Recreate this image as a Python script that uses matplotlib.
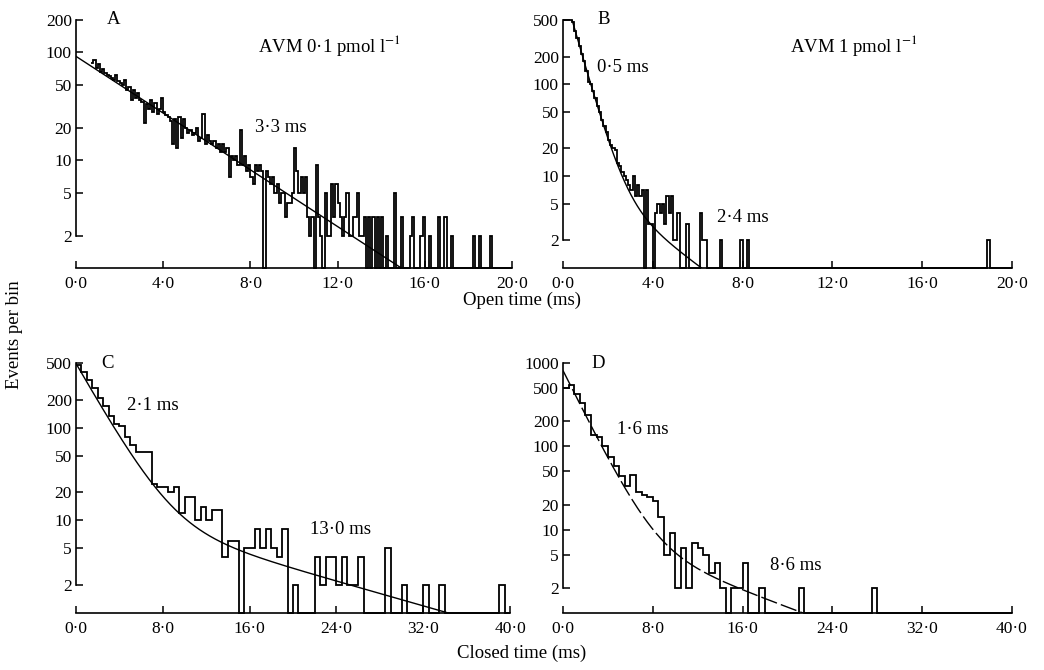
import numpy as np
import matplotlib
matplotlib.use("Agg")
import matplotlib.pyplot as plt

plt.rcParams['font.family'] = ['Liberation Serif', 'DejaVu Serif']
plt.rcParams['mathtext.fontset'] = 'stix'

# ---------------- data ----------------
open_bin_ms = 0.1
closed_bin_ms = 0.5

# Panel A: open times, AVM 0.1 pmol/l  (bins of 0.1 ms starting at 0.7 ms)
A_start_ms = 0.7
A_counts = [
    80, 85, 72,
    78, 66, 70, 64, 62, 60, 58, 55, 62, 54,
    52, 50, 55, 45, 48, 36, 45, 38, 42, 36,
    35, 22, 33, 30, 36, 28, 34, 27, 30, 38,
    28, 26, 25, 23, 14, 24, 13, 25, 16, 24,
    20, 18, 19, 17, 18, 20, 15, 16, 27, 14,
    17, 15, 14, 15, 13, 14, 12, 14, 12, 13,
    7, 11, 10, 11, 9, 19, 9, 11, 8, 9,
    7, 6, 9, 8, 9, 8, 1, 8, 7, 6,
    7, 5, 6, 4, 5, 5, 3, 4, 4, 5,
    13, 8, 5, 7, 5, 7, 3, 2, 3, 1,
    9, 3, 2, 1, 5, 2, 2, 6, 3, 6,
    4, 3, 2, 3, 5, 2, 2, 3, 3, 5,
    2, 2, 3, 1, 3, 1, 3, 1, 3, 1,
    3, 1, 2, 1, 1, 1, 5, 1, 1, 3,
    1, 1, 1, 2, 3, 1, 1, 1, 2, 3,
    1, 1, 2, 1, 1, 1, 3, 1, 1, 3,
    1, 1, 2, 1, 1, 1, 1, 1, 1, 1,
    1, 1, 2, 1, 1, 2, 1, 1, 1, 1,
    2, 1, 1, 1, 1, 1, 1, 1, 1, 1,
]

# Panel B: open times, AVM 1 pmol/l  (bins of 0.1 ms from 0)
B_start_ms = 0.0
B_counts = [
    500, 500, 500, 500, 470, 380, 320, 260, 215, 180,
    140, 105, 100, 85, 70, 58, 50, 41, 35, 30,
    25, 22, 20, 19, 14, 13, 11, 10, 9, 8,
    7, 10, 6, 8, 6, 7, 1, 7, 3, 3,
    1, 4, 5, 4, 5, 3, 6, 4, 6, 2,
    2, 4, 1, 1, 1, 3, 1, 1, 1, 1,
    1, 4, 2, 2, 1, 1, 1, 1, 1, 1,
    2, 1, 1, 1, 1, 1, 1, 1, 1, 2,
    1, 1, 2, 1, 1, 1, 1, 1, 1, 1,
] + [1] * 99 + [2] + [1] * 10

# Panel C: closed times, AVM 0.1 pmol/l (bins of 0.5 ms)
C_start_ms = 0.0
C_counts = [
    480, 400, 330, 270, 210, 170, 135, 110, 105, 80,
    65, 55, 55, 55, 25, 23, 23, 20, 23, 12,
    18, 18, 10, 14, 10, 13, 13, 4, 6, 6,
    1, 5, 5, 8, 5, 8, 5, 4, 8, 1,
    2, 1, 1, 1, 4, 2, 4, 4, 2, 4,
    2, 2, 4, 1, 1, 1, 1, 5, 1, 1,
    2, 1, 1, 1, 2, 1, 1, 2, 1, 1,
    1, 1, 1, 1, 1, 1, 1, 1, 2, 1,
]

# Panel D: closed times, AVM 1 pmol/l (bins of 0.5 ms)
D_start_ms = 0.0
D_counts = [
    500, 550, 420, 330, 240, 135, 130, 100, 75, 58,
    44, 33, 45, 28, 26, 25, 22, 14, 5, 9,
    2, 6, 2, 7, 6, 5, 3, 4, 2, 1,
    2, 2, 4, 1, 1, 2, 1, 1, 1, 1,
    1, 1, 2, 1, 1, 1, 1, 1, 1, 1,
    1, 1, 1, 1, 1, 2, 1, 1, 1, 1,
    1, 1, 1, 1, 1, 1, 1, 1, 1, 1,
    1, 1, 1, 1, 1, 1, 1, 1, 1, 1,
]

# fitted exponential components (amplitude per bin, time constant ms)
A_fit_amp = [92.0];         A_fit_tau = [3.3];       A_fit_from = 0.0
B_fit_amp = [1100.0, 13.0]; B_fit_tau = [0.5, 2.4];  B_fit_from = 0.4
C_fit_amp = [480.0, 14.0];  C_fit_tau = [2.1, 13.0]; C_fit_from = 0.0
D_fit_amp = [800.0, 12.0];  D_fit_tau = [1.6, 8.6];  D_fit_from = 0.0

open_xticks = [0, 4, 8, 12, 16, 20]
open_xlabels = ["0·0", "4·0", "8·0", "12·0", "16·0", "20·0"]
closed_xticks = [0, 8, 16, 24, 32, 40]
closed_xlabels = ["0·0", "8·0", "16·0", "24·0", "32·0", "40·0"]
yt_A = [2, 5, 10, 20, 50, 100, 200]
yt_BC = [2, 5, 10, 20, 50, 100, 200, 500]
yt_D = [2, 5, 10, 20, 50, 100, 200, 500, 1000]

# ---------------- figure ----------------
W, H = 1044, 670
fig = plt.figure(figsize=(W / 100, H / 100), dpi=100)


def rect(x0, x1, ytop, ybot):
    return [x0 / W, 1 - ybot / H, (x1 - x0) / W, (ybot - ytop) / H]


def panel(r, counts, start, width, xmax, ytop, yticks, xticks, xlabels,
          amps, taus, fit_from, fit_style):
    ax = fig.add_axes(r)
    ax.set_yscale('log')
    ax.set_xlim(0, xmax)
    ax.set_ylim(1, ytop)
    c = np.clip(np.asarray(counts, dtype=float), 1, ytop)
    edges = start + width * np.arange(len(c) + 1)
    ax.stairs(c, edges, baseline=None, color='black', lw=1.3,
              clip_on=False)
    t = np.linspace(fit_from, xmax, 2000)
    f = np.zeros_like(t)
    for a, tau in zip(amps, taus):
        f += a * np.exp(-t / tau)
    m = (f >= 1.0) & (f <= ytop * 1.01)
    ax.plot(t[m], f[m], color='black', lw=1.0, ls=fit_style)
    for s in ('top', 'right'):
        ax.spines[s].set_visible(False)
    ax.spines['left'].set_bounds(2, yticks[-1])
    ax.spines['bottom'].set_bounds(0, xmax)
    for s in ('left', 'bottom'):
        ax.spines[s].set_linewidth(1.2)
    ax.set_yticks(yticks)
    ax.set_yticklabels([str(v) for v in yticks])
    ax.yaxis.set_minor_locator(matplotlib.ticker.NullLocator())
    ax.set_xticks(xticks)
    ax.set_xticklabels(xlabels)
    ax.tick_params(direction='in', length=5, width=1.1, labelsize=12.5,
                   pad=3)
    ax.tick_params(axis='x', pad=6)
    return ax


axA = panel(rect(76, 512, 20, 268), A_counts, A_start_ms, open_bin_ms, 20,
            200, yt_A, open_xticks, open_xlabels,
            A_fit_amp, A_fit_tau, A_fit_from, '-')
axB = panel(rect(563, 1012, 20, 268), B_counts, B_start_ms, open_bin_ms, 20,
            500, yt_BC, open_xticks, open_xlabels,
            B_fit_amp, B_fit_tau, B_fit_from, '-')
axC = panel(rect(76, 510, 363, 613), C_counts, C_start_ms, closed_bin_ms, 40,
            500, yt_BC, closed_xticks, closed_xlabels,
            C_fit_amp, C_fit_tau, C_fit_from, '-')
axD = panel(rect(563, 1012, 363, 613), D_counts, D_start_ms, closed_bin_ms, 40,
            1000, yt_D, closed_xticks, closed_xlabels,
            D_fit_amp, D_fit_tau, D_fit_from, (0, (12, 3)))


def ftext(x, y, s, size=13, **kw):
    fig.text(x / W, 1 - y / H, s, fontsize=size, va='center', **kw)


ftext(107, 20, "A", 13.5)
ftext(258, 45, r"AVM 0·1 pmol l$^{-1}$", 13.5)
ftext(255, 128, "3·3 ms", 13.5)
ftext(597, 19, "B", 13.5)
ftext(790, 46, r"AVM 1 pmol l$^{-1}$", 13.5)
ftext(597, 68, "0·5 ms", 13.5)
ftext(717, 217, "2·4 ms", 13.5)
ftext(101, 364, "C", 13.5)
ftext(127, 405, "2·1 ms", 13.5)
ftext(310, 529, "13·0 ms", 13.5)
ftext(591, 363, "D", 13.5)
ftext(617, 429, "1·6 ms", 13.5)
ftext(770, 565, "8·6 ms", 13.5)
ftext(522, 300, "Open time (ms)", 13.5, ha='center')
ftext(522, 653, "Closed time (ms)", 13.5, ha='center')
ftext(15, 335, "Events per bin", 13.5, ha='center', rotation=90)

fig.savefig("out.png", dpi=100)
